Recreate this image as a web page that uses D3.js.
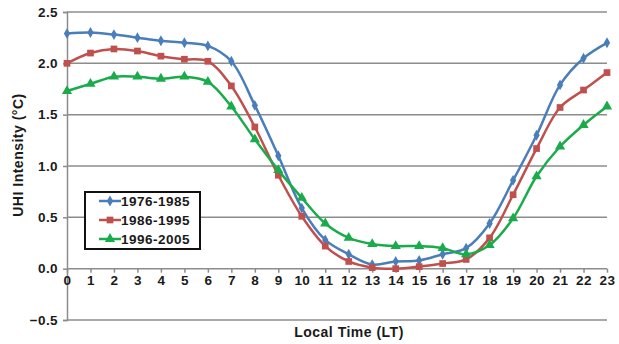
<!DOCTYPE html>
<html>
<head>
<meta charset="utf-8">
<script src="https://cdn.jsdelivr.net/npm/d3@7"></script>
<style>
	body { margin: 0; background: #fff; }
	svg text { font-family: 'Liberation Sans', Arial, sans-serif; font-weight: bold; fill: #1a1a1a; }
</style>
</head>
<body>
<div id="chart"></div>
<script>
'use strict';

// data
var hours = d3.range(0, 24);
var yTicks = [-0.5, 0, 0.5, 1, 1.5, 2, 2.5];
var seriesNames = ['1976-1985', '1986-1995', '1996-2005'];
var p1976 = [2.29, 2.30, 2.28, 2.25, 2.22, 2.20, 2.17, 2.02, 1.59, 1.10, 0.59, 0.28,
	0.14, 0.04, 0.07, 0.08, 0.14, 0.20, 0.44, 0.86, 1.30, 1.79, 2.05, 2.20];
var p1986 = [2.00, 2.10, 2.14, 2.12, 2.07, 2.04, 2.02, 1.78, 1.38, 0.91, 0.51, 0.22,
	0.07, 0.01, 0.00, 0.02, 0.05, 0.09, 0.30, 0.72, 1.17, 1.57, 1.74, 1.91];
var p1996 = [1.73, 1.80, 1.87, 1.87, 1.85, 1.87, 1.82, 1.58, 1.26, 0.96, 0.69, 0.44,
	0.30, 0.24, 0.22, 0.22, 0.20, 0.14, 0.23, 0.49, 0.90, 1.19, 1.40, 1.58];

var colors = ['#4a7ebb', '#c0504d', '#1aab4b'];
var symbols = [d3.symbolDiamond, d3.symbolSquare, d3.symbolTriangle];
var symbolSizes = [34, 45, 45];

const margin = { top: 12, right: 12, bottom: 24, left: 67 };
const W = 619, H = 344;
var width = W - margin.left - margin.right;
var height = H - margin.top - margin.bottom;

var svg = d3.select('#chart').append('svg')
	.attr('width', W)
	.attr('height', H);

var g = svg.append('g')
	.attr('transform', 'translate(' + margin.left + ',' + margin.top + ')');

var xScale = d3.scaleLinear().domain([0, 23]).range([0, width]);
var yScale = d3.scaleLinear().domain([-0.5, 2.5]).range([height, 0]);

// horizontal grid
g.append('g')
	.selectAll('line')
	.data(yTicks)
	.enter().append('line')
	.attr('x1', 0)
	.attr('x2', width)
	.attr('y1', function(d){ return yScale(d); })
	.attr('y2', function(d){ return yScale(d); })
	.style('stroke', '#8c8c8c')
	.style('stroke-width', 1.5);

// y axis
var yAxis = d3.axisLeft(yScale)
	.tickValues(yTicks)
	.tickSize(4)
	.tickPadding(5)
	.tickFormat(d3.format('.1f'));
var yGuide = g.append('g').call(yAxis);
yGuide.select('.domain').style('stroke', '#8c8c8c').style('stroke-width', 1.5);
yGuide.selectAll('line').style('stroke', '#8c8c8c').style('stroke-width', 1.5);
yGuide.selectAll('text')
	.style('font-size', '13.5px')
	.style('letter-spacing', '0.4px')
	.style('font-family', null).style('fill', null);

// x axis sits on zero
var xAxis = d3.axisBottom(xScale)
	.tickValues(hours)
	.tickSize(4)
	.tickPadding(3)
	.tickFormat(d3.format('d'));
var xGuide = g.append('g')
	.attr('transform', 'translate(0,' + yScale(0) + ')')
	.call(xAxis);
xGuide.select('.domain').remove();
xGuide.selectAll('line').style('stroke', '#8c8c8c').style('stroke-width', 1.5);
xGuide.selectAll('text')
	.style('font-size', '13.5px')
	.style('letter-spacing', '0.4px')
	.style('font-family', null).style('fill', null);

// series
var allSeries = [p1976, p1986, p1996];
var line = d3.line()
	.x(function(d, i){ return xScale(i); })
	.y(function(d){ return yScale(d); })
	.curve(d3.curveCatmullRom);

allSeries.forEach(function(values, s) {
	g.append('path')
		.datum(values)
		.attr('d', line)
		.style('fill', 'none')
		.style('stroke', colors[s])
		.style('stroke-width', 2.5);
	g.append('g')
		.selectAll('path')
		.data(values)
		.enter().append('path')
		.attr('transform', function(d, i){
			return 'translate(' + xScale(i) + ',' + yScale(d) + ')';
		})
		.attr('d', d3.symbol().type(symbols[s]).size(symbolSizes[s]))
		.style('fill', colors[s]);
});

// legend
var legend = svg.append('g').attr('transform', 'translate(85,192)');
legend.append('rect')
	.attr('width', 115)
	.attr('height', 57)
	.style('fill', '#fff')
	.style('stroke', '#111')
	.style('stroke-width', 2);
seriesNames.forEach(function(name, s) {
	var yy = 9 + s * 19;
	legend.append('line')
		.attr('x1', 14).attr('x2', 36)
		.attr('y1', yy).attr('y2', yy)
		.style('stroke', colors[s])
		.style('stroke-width', 2.5);
	legend.append('path')
		.attr('transform', 'translate(25,' + yy + ')')
		.attr('d', d3.symbol().type(symbols[s]).size(symbolSizes[s]))
		.style('fill', colors[s]);
	legend.append('text')
		.attr('x', 36)
		.attr('y', yy)
		.attr('dy', '.35em')
		.style('font-size', '13.5px')
		.style('letter-spacing', '0.5px')
		.text(name);
});

// axis titles
svg.append('text')
	.attr('transform', 'rotate(-90)')
	.attr('x', -155)
	.attr('y', 18)
	.attr('dy', '.35em')
	.style('text-anchor', 'middle')
	.style('font-size', '14px')
	.style('letter-spacing', '0.5px')
	.text('UHI Intensity (°C)');

svg.append('text')
	.attr('x', 349)
	.attr('y', 332)
	.attr('dy', '.35em')
	.style('text-anchor', 'middle')
	.style('font-size', '14px')
	.style('letter-spacing', '0.5px')
	.text('Local Time (LT)');
</script>
</body>
</html>
